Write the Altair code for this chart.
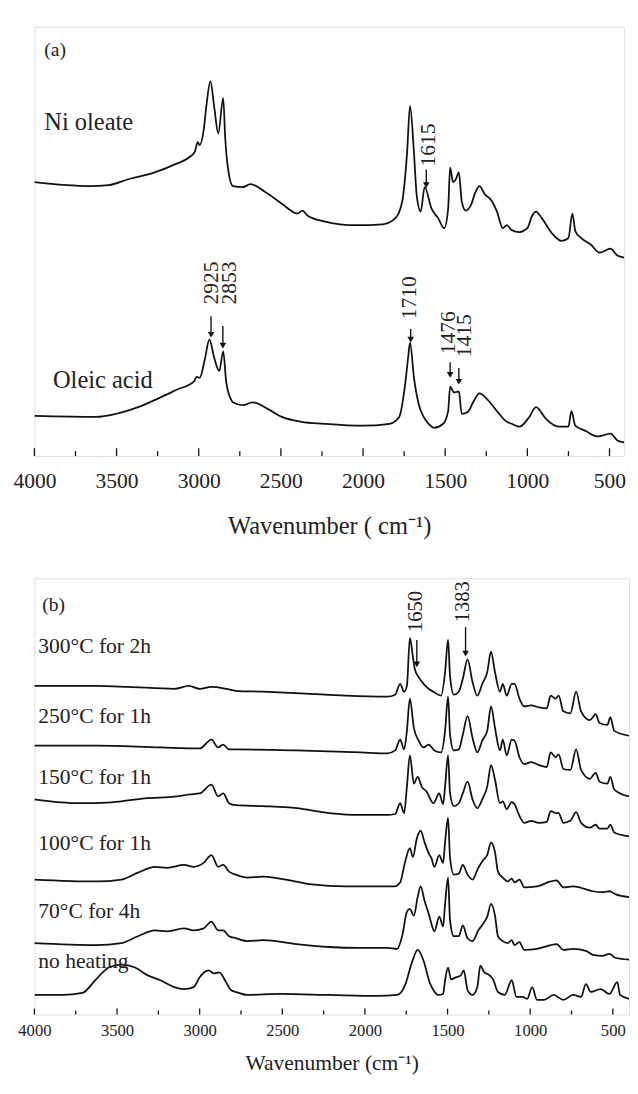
import altair as alt
import pandas as pd

FONT = "Liberation Serif"
INK = "#111111"
TXT = "#222222"

# ---------------- panel (a) data: wavenumber (cm-1) and relative absorbance ----------------
ni_w = [4000, 3667, 3548, 3429, 3268, 3149, 3054, 3024, 3006, 2994, 2970, 2952, 2929, 2905, 2881,
        2851, 2839, 2821, 2792, 2732, 2685, 2595, 2494, 2399, 2369, 2339, 2238, 2042, 1881, 1804,
        1762, 1732, 1714, 1690, 1673, 1649, 1625, 1583, 1542, 1506, 1482, 1470, 1452, 1435, 1417,
        1399, 1375, 1345, 1315, 1292, 1256, 1226, 1185, 1149, 1125, 1095, 1048, 1000, 970, 947,
        911, 851, 792, 750, 726, 708, 673, 613, 560, 494, 452, 411]
ni_h = [280, 276, 277, 283, 290, 298, 306, 311, 321, 318, 333, 360, 383, 356, 330,
        366, 326, 293, 276, 275, 278, 270, 258, 248, 251, 246, 240, 236, 237, 243,
        260, 310, 358, 310, 266, 250, 275, 253, 243, 233, 253, 295, 280, 283, 290,
        260, 251, 256, 270, 276, 267, 263, 250, 233, 236, 231, 229, 233, 246, 250,
        243, 228, 220, 223, 248, 230, 223, 216, 208, 212, 205, 203]

ol_w = [4000, 3625, 3506, 3369, 3232, 3131, 3030, 3012, 2994, 2964, 2935, 2905, 2875, 2851, 2833,
        2804, 2792, 2732, 2673, 2577, 2494, 2375, 2238, 2000, 1839, 1780, 1744, 1726, 1714, 1690,
        1661, 1631, 1601, 1565, 1512, 1482, 1470, 1446, 1417, 1399, 1363, 1327, 1292, 1244, 1185,
        1125, 1095, 1048, 988, 947, 887, 810, 750, 732, 708, 649, 571, 494, 452, 411]
ol_h = [41, 40, 43, 50, 60, 68, 76, 81, 80, 98, 119, 100, 87, 107, 76,
        58, 55, 52, 55, 48, 40, 35, 33, 31, 33, 40, 73, 100, 116, 80,
        53, 40, 33, 29, 33, 46, 71, 65, 66, 43, 45, 56, 64, 58, 46,
        35, 33, 30, 40, 50, 38, 30, 30, 46, 31, 26, 20, 23, 16, 14]

# ---------------- panel (b) data ----------------
b_names = ["300°C for 2h", "250°C for 1h", "150°C for 1h", "100°C for 1h", "70°C for 4h", "no heating"]

b300_w = [4000, 3627, 3432, 3154, 3065, 3000, 2929, 2840, 2781, 2615, 2355, 2118, 1864, 1817, 1787,
          1763, 1746, 1728, 1710, 1698, 1675, 1645, 1615, 1586, 1539, 1515, 1497, 1485, 1462, 1432,
          1408, 1379, 1349, 1320, 1290, 1260, 1237, 1213, 1183, 1166, 1142, 1112, 1095, 1065, 1036,
          994, 947, 900, 876, 846, 828, 799, 757, 722, 692, 639, 604, 580, 533, 515, 491, 402]
b300_h = [336, 336, 335, 333, 336, 333, 335, 333, 331, 330, 328, 326, 325, 327, 338,
          330, 336, 385, 366, 353, 345, 338, 333, 330, 326, 350, 383, 346, 327, 330,
          343, 363, 340, 326, 338, 350, 371, 350, 330, 338, 326, 338, 338, 323, 315,
          316, 314, 313, 326, 323, 326, 310, 308, 330, 310, 301, 307, 298, 296, 304, 290, 285]

b250_w = [4000, 3627, 3237, 3000, 2929, 2888, 2858, 2822, 2781, 2414, 2024, 1864, 1817, 1787, 1763,
          1746, 1728, 1704, 1675, 1645, 1615, 1580, 1539, 1515, 1497, 1485, 1462, 1432, 1408, 1379,
          1349, 1320, 1290, 1260, 1237, 1213, 1183, 1166, 1142, 1112, 1095, 1065, 1036, 994, 947,
          900, 876, 846, 828, 799, 757, 722, 692, 639, 604, 580, 533, 515, 491, 402]
b250_h = [275, 275, 273, 272, 281, 273, 276, 271, 271, 270, 268, 267, 270, 281, 271,
          290, 323, 293, 280, 273, 276, 270, 268, 290, 325, 286, 270, 271, 286, 305,
          283, 268, 280, 290, 315, 293, 270, 281, 265, 281, 280, 263, 256, 258, 255,
          253, 268, 263, 266, 251, 250, 271, 250, 241, 247, 238, 236, 243, 230, 223]

b150_w = [4000, 3728, 3533, 3331, 3136, 3059, 3000, 2929, 2888, 2858, 2822, 2781, 2615, 2414, 2219,
          2024, 1864, 1817, 1787, 1763, 1746, 1728, 1704, 1681, 1657, 1627, 1586, 1550, 1527, 1515,
          1497, 1485, 1462, 1432, 1408, 1379, 1349, 1320, 1290, 1260, 1237, 1213, 1183, 1166, 1142,
          1112, 1095, 1065, 1036, 994, 947, 900, 876, 846, 828, 799, 757, 722, 692, 639,
          604, 580, 533, 515, 491, 402]
b150_h = [220, 216, 217, 221, 223, 225, 226, 235, 223, 226, 216, 214, 213, 211, 206,
          204, 204, 205, 216, 206, 233, 265, 236, 243, 233, 228, 216, 226, 215, 233,
          265, 226, 213, 216, 226, 238, 220, 211, 220, 233, 255, 240, 216, 218, 210,
          217, 215, 203, 196, 198, 196, 197, 208, 206, 206, 196, 198, 207, 196, 191,
          194, 190, 190, 194, 186, 182]

b100_w = [4000, 3627, 3473, 3373, 3272, 3195, 3095, 3036, 2976, 2929, 2888, 2858, 2822, 2781, 2710,
          2615, 2515, 2320, 2118, 1923, 1822, 1787, 1757, 1728, 1710, 1686, 1663, 1639, 1609, 1598,
          1580, 1550, 1527, 1515, 1497, 1485, 1462, 1432, 1408, 1379, 1349, 1314, 1284, 1260, 1237,
          1213, 1195, 1166, 1136, 1112, 1095, 1065, 1036, 959, 876, 840, 799, 740, 663, 621,
          562, 521, 485, 402]
b100_h = [138, 136, 138, 145, 151, 150, 153, 151, 155, 163, 151, 153, 146, 143, 140,
          141, 139, 133, 131, 131, 131, 135, 156, 170, 161, 180, 188, 176, 163, 160,
          151, 163, 155, 176, 201, 160, 143, 144, 153, 143, 138, 150, 158, 163, 176,
          166, 146, 140, 136, 139, 135, 138, 130, 131, 136, 137, 130, 131, 128, 126,
          125, 126, 123, 120]

b70_w = [4000, 3627, 3473, 3373, 3272, 3195, 3095, 3036, 2976, 2929, 2888, 2858, 2822, 2781, 2710,
         2615, 2414, 2219, 2024, 1864, 1805, 1775, 1746, 1728, 1704, 1681, 1663, 1639, 1609, 1598,
         1580, 1550, 1527, 1515, 1497, 1485, 1462, 1432, 1408, 1379, 1349, 1314, 1284, 1260, 1237,
         1213, 1195, 1166, 1136, 1112, 1095, 1065, 1036, 959, 876, 840, 799, 740, 663, 621,
         562, 521, 485, 402]
b70_h = [73, 71, 73, 80, 86, 85, 88, 86, 88, 95, 86, 86, 80, 78, 75,
         76, 72, 69, 68, 68, 67, 80, 105, 108, 101, 120, 131, 116, 100, 93,
         85, 100, 90, 113, 140, 96, 80, 80, 91, 78, 75, 86, 93, 100, 113,
         101, 80, 75, 73, 76, 71, 74, 66, 67, 71, 72, 66, 67, 65, 61,
         60, 62, 58, 56]

b0_w = [4000, 3828, 3710, 3627, 3550, 3473, 3391, 3314, 3237, 3154, 3095, 3036, 3000, 2947, 2911,
        2882, 2840, 2811, 2781, 2710, 2515, 2219, 1923, 1805, 1757, 1716, 1681, 1645, 1609, 1586,
        1556, 1527, 1515, 1497, 1479, 1450, 1420, 1402, 1379, 1349, 1320, 1302, 1278, 1254, 1225,
        1195, 1154, 1112, 1083, 1047, 1018, 988, 959, 917, 858, 799, 740, 692, 663, 633,
        574, 521, 473, 456, 402]
b0_h = [20, 20, 22, 36, 48, 51, 48, 40, 35, 28, 26, 28, 38, 45, 42,
        43, 33, 25, 23, 20, 21, 20, 19, 20, 30, 53, 66, 55, 33, 25,
        20, 21, 35, 48, 36, 38, 40, 45, 25, 20, 28, 50, 43, 41, 36,
        23, 20, 35, 18, 18, 16, 28, 15, 15, 20, 15, 20, 18, 31, 23,
        26, 21, 33, 20, 16]

major_ticks = [4000, 3500, 3000, 2500, 2000, 1500, 1000, 500]
minor_ticks = [3750, 3250, 2750, 2250, 1750, 1250, 750]

# annotations (a): text, wavenumber, intensity
a_labels = ["(a)", "Ni oleate", "Oleic acid"]
a_label_w = [3940, 3940, 3887]
a_label_h = [415, 341, 78]
a_label_fs = [20, 25, 25]

a_peak_text = ["2925", "2853", "1710", "1476", "1415", "1615"]
a_peak_text_w = [2926, 2812, 1720, 1485, 1387, 1601]
a_peak_text_h = [155, 155, 140, 104, 101, 296]

a_arrow_w = [2925, 2853, 1710, 1470, 1417, 1615]
a_arrow_top = [143, 133, 130, 96, 90, 293]
a_arrow_tip = [121, 110, 116, 80, 73, 274]

# annotations (b)
b_label_w = [3953, 3976, 3976, 3976, 3976, 3976, 3976]
b_label_h = [419, 377, 305, 243, 175, 106, 55]
b_labels = ["(b)"] + b_names
b_label_fs = [20, 22, 22, 22, 22, 22, 22]

b_peak_text = ["1650", "1383"]
b_peak_text_w = [1692, 1408]
b_peak_text_h = [391, 401]
b_arrow_w = [1686, 1391]
b_arrow_top = [383, 396]
b_arrow_tip = [355, 366]


def spectra_df(names, ws, hs):
    frames = []
    for n, w, h in zip(names, ws, hs):
        frames.append(pd.DataFrame({"series": n, "w": w, "h": h, "i": list(range(len(w)))}))
    return pd.concat(frames, ignore_index=True)


def panel(spec, labels, peaks, arrows, dom_right, width, height, tick_fs, title, title_fs,
          label_pad, title_pad, major_len, minor_len, peak_fs, head_size):
    xs = alt.Scale(domain=[dom_right, 4000], reverse=True, nice=False, zero=False)
    ys = alt.Scale(domain=[0, height], nice=False, zero=False)
    xaxis = alt.Axis(values=major_ticks, format="d", labelFont=FONT, labelFontSize=tick_fs,
                     labelColor=TXT, labelPadding=label_pad, labelFlush=False, labelOverlap=False,
                     ticks=False, tickSize=0, domain=False, grid=False, title=title,
                     titleFont=FONT, titleFontSize=title_fs, titleFontWeight="normal",
                     titleColor=TXT, titlePadding=title_pad)
    lines = alt.Chart(spec).mark_line(color=INK, strokeWidth=1.8, clip=True,
                                      interpolate="monotone").encode(
        x=alt.X("w:Q", scale=xs, axis=xaxis),
        y=alt.Y("h:Q", scale=ys, axis=None),
        detail="series:N",
        order="i:Q",
    )
    majors = alt.Chart(pd.DataFrame({"w": major_ticks})).mark_rule(color=INK, strokeWidth=1.3).encode(
        x=alt.X("w:Q", scale=xs), y=alt.value(height), y2=alt.value(height - major_len))
    minors = alt.Chart(pd.DataFrame({"w": minor_ticks})).mark_rule(color=INK, strokeWidth=1.3).encode(
        x=alt.X("w:Q", scale=xs), y=alt.value(height), y2=alt.value(height - minor_len))
    txt = alt.Chart(labels).mark_text(align="left", baseline="middle", font=FONT, color=TXT).encode(
        x=alt.X("w:Q", scale=xs), y=alt.Y("h:Q", scale=ys), text="t:N",
        size=alt.Size("fs:Q", scale=None, legend=None))
    ptxt = alt.Chart(peaks).mark_text(align="left", baseline="middle", angle=270, font=FONT,
                                      fontSize=peak_fs, color=TXT).encode(
        x=alt.X("w:Q", scale=xs), y=alt.Y("h:Q", scale=ys), text="t:N")
    arule = alt.Chart(arrows).mark_rule(color=INK, strokeWidth=1.4).encode(
        x=alt.X("w:Q", scale=xs), y=alt.Y("top:Q", scale=ys), y2="base:Q")
    ahead = alt.Chart(arrows).mark_point(shape="triangle-down", filled=True, opacity=1,
                                         color=INK, size=head_size).encode(
        x=alt.X("w:Q", scale=xs), y=alt.Y("head:Q", scale=ys))
    return alt.layer(lines, majors, minors, arule, ahead, txt, ptxt).properties(
        width=width, height=height)


a_spec = spectra_df(["Ni oleate", "Oleic acid"], [ni_w, ol_w], [ni_h, ol_h])
a_lab = pd.DataFrame({"t": a_labels, "w": a_label_w, "h": a_label_h, "fs": a_label_fs})
a_pk = pd.DataFrame({"t": a_peak_text, "w": a_peak_text_w, "h": a_peak_text_h})
a_ar = pd.DataFrame({"w": a_arrow_w, "top": a_arrow_top,
                     "base": [t + 3 for t in a_arrow_tip], "head": [t + 3 for t in a_arrow_tip]})

b_spec = spectra_df(b_names, [b300_w, b250_w, b150_w, b100_w, b70_w, b0_w],
                    [b300_h, b250_h, b150_h, b100_h, b70_h, b0_h])
b_lab = pd.DataFrame({"t": b_labels, "w": b_label_w, "h": b_label_h, "fs": b_label_fs})
b_pk = pd.DataFrame({"t": b_peak_text, "w": b_peak_text_w, "h": b_peak_text_h})
b_ar = pd.DataFrame({"w": b_arrow_w, "top": b_arrow_top,
                     "base": [t + 3 for t in b_arrow_tip], "head": [t + 3 for t in b_arrow_tip]})

pa = panel(a_spec, a_lab, a_pk, a_ar, 411, 603, 439, 22, "Wavenumber ( cm\u207b\u00b9)", 25,
           15, 23, 8, 5, 22, 45)
pb = panel(b_spec, b_lab, b_pk, b_ar, 402, 608, 446, 17, "Wavenumber (cm\u207b\u00b9)", 22,
           9, 14, 6, 4, 21, 45)

chart = alt.vconcat(pa, pb, spacing=39).properties(
    padding={"left": 4, "top": 6, "right": 0, "bottom": 0}
).configure_view(stroke=INK, strokeWidth=1.3).configure(background="white")

chart.save("out.html", embed_options={"renderer": "svg", "actions": False})
